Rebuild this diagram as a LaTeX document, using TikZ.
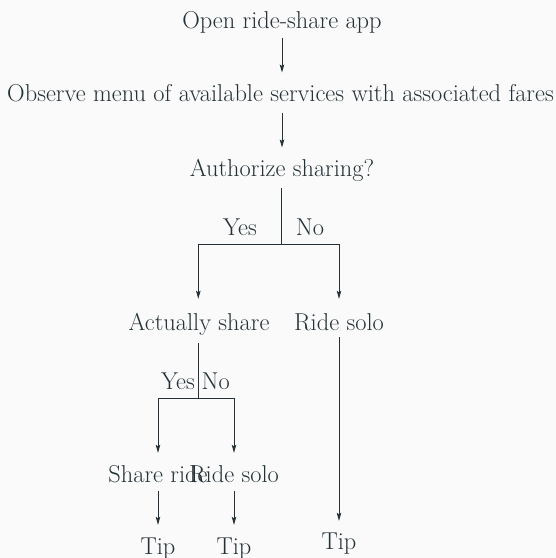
\documentclass[tikz,border=0pt]{standalone}
\usetikzlibrary{arrows.meta}
\definecolor{ink}{RGB}{36,50,55}
\definecolor{paper}{RGB}{250,250,250}
\begin{document}
\begin{tikzpicture}[x=1pt,y=-1pt,
  lbl/.style={text=ink, inner sep=0pt, anchor=base, text height=18pt, text depth=5pt,
              font=\fontsize{24.4}{28}\selectfont},
  edge/.style={draw=ink, line width=0.8pt},
  arr/.style={edge, -{Stealth[length=8pt,width=4.5pt,inset=1.5pt]}},
]
\fill[paper] (0,0) rectangle (556,558);
\useasboundingbox (0,0) rectangle (556,558);

\node[lbl] (open) at (282,28) {Open ride-share app};
\node[lbl] (obs)  at (280.5,101.7) {Observe menu of available services with associated fares};
\node[lbl] (auth) at (282,176.7) {Authorize sharing?};
\node[lbl] (act)  at (199,330) {Actually share};
\node[lbl] (solo1) at (339,330) {Ride solo};
\node[lbl] (share) at (158,482) {Share ride};
\node[lbl] (solo2) at (234,482) {Ride solo};
\node[lbl] (tip1) at (158,554) {Tip};
\node[lbl] (tip2) at (234,554) {Tip};
\node[lbl] (tip3) at (339,549) {Tip};

\node[lbl] (yes1) at (240,235) {Yes};
\node[lbl] (no1)  at (310,235) {No};
\node[lbl] (yes2) at (178,389) {Yes};
\node[lbl] (no2)  at (215.7,389) {No};

\coordinate (b1) at (281.7,244);
\coordinate (b2) at (198.3,398.3);

\draw[arr, shorten <=5pt, shorten >=11pt] (open.south -| 282,0) -- (obs.north -| 282,0);
\draw[arr, shorten <=6pt, shorten >=11pt] (obs.south -| 282,0) -- (auth.north -| 282,0);
\draw[edge, shorten <=6pt] (auth.south -| b1) -- (b1);
\draw[arr, shorten >=13pt] (b1) -| (act.north -| 198.3,0);
\draw[arr, shorten >=13pt] (b1) -| (solo1.north);
\draw[edge, shorten <=8pt] (act.south -| b2) -- (b2);
\draw[arr, shorten >=11pt] (b2) -| (share.north);
\draw[arr, shorten >=11pt] (b2) -| (solo2.north);
\draw[arr, shorten <=4pt, shorten >=11pt] (share.south) -- (tip1.north);
\draw[arr, shorten <=4pt, shorten >=11pt] (solo2.south) -- (tip2.north);
\draw[arr, shorten <=2pt, shorten >=10pt] (solo1.south) -- (tip3.north);
\end{tikzpicture}
\end{document}
